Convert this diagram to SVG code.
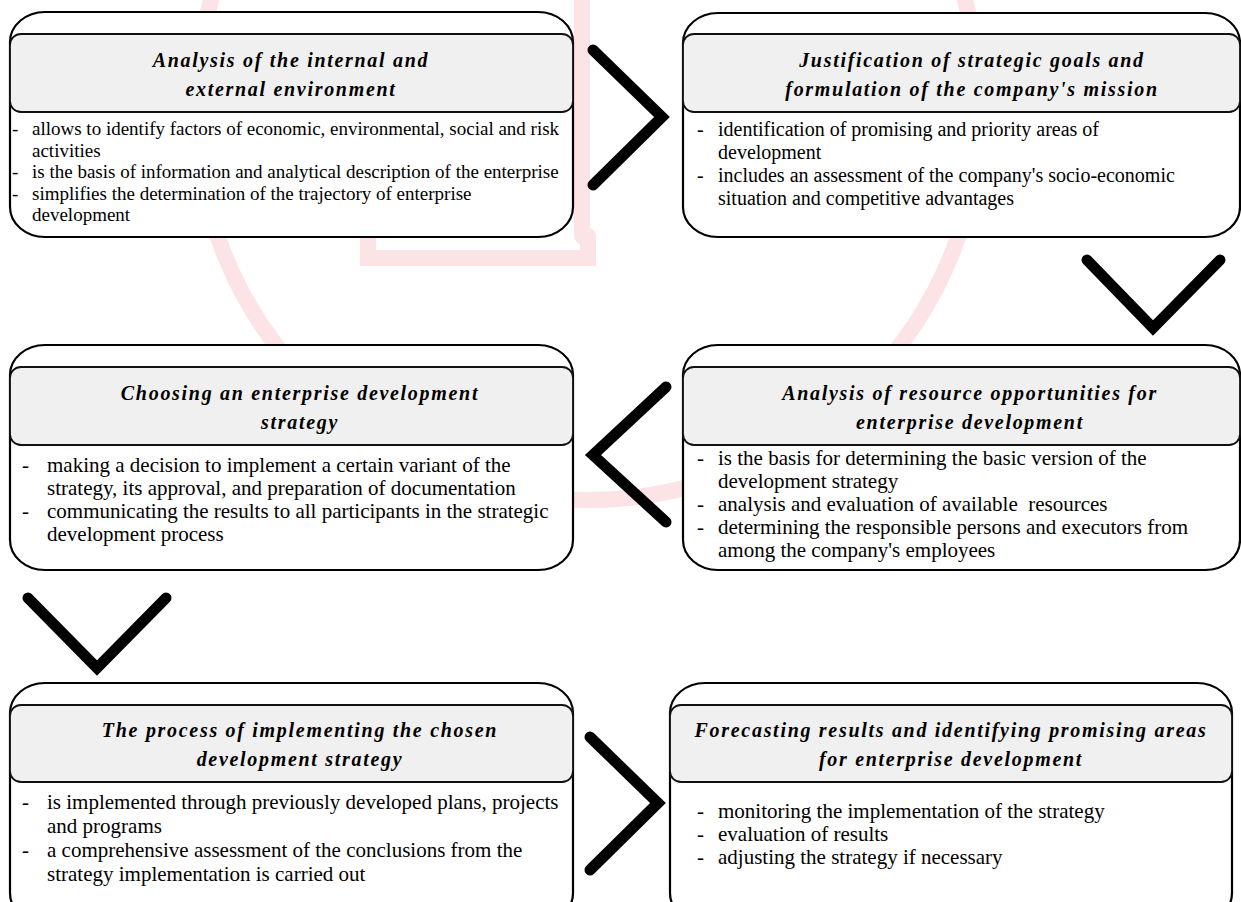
<svg xmlns="http://www.w3.org/2000/svg" width="1241" height="902" viewBox="0 0 1241 902">
<style>
.outer{fill:#ffffff;stroke:#000;stroke-width:2.2}
.head{fill:#f0f0f0;stroke:#111;stroke-width:1.8}
.title{font-family:"Liberation Serif","Times New Roman",serif;font-weight:bold;font-style:italic;font-size:20px;letter-spacing:1.7px;fill:#000;text-anchor:middle}
.body{font-family:"Liberation Serif","Times New Roman",serif;font-size:21px;fill:#000}
.small{font-size:19px}
.mid{font-size:20px}
.chev{fill:none;stroke:#000;stroke-width:11;stroke-linecap:round;stroke-linejoin:miter}
.wm{fill:none;stroke:#fbe3e6;stroke-width:16;stroke-linecap:round}
</style>
<rect width="1241" height="902" fill="#fff"/>
<g id="watermark">
<circle class="wm" cx="588" cy="108" r="392"/>
<path class="wm" d="M368,236 V258 H588 V236" stroke-width="11"/>
<path class="wm" d="M582,0 V236" stroke-width="9"/>
</g>
<g id="connectors">
<polyline class="chev" points="593,50 662,117 593,185"/>
<polyline class="chev" points="1087,260 1153,328 1220,260"/>
<polyline class="chev" points="666,387 593,455 666,522"/>
<polyline class="chev" points="28,598 97,668 166,598"/>
<polyline class="chev" points="590,737 658,803 590,870"/>
</g>
<g id="node1">
<rect class="outer" x="10" y="12" width="563" height="225" rx="35" ry="30"/>
<rect class="head" x="10" y="34" width="563" height="78" rx="11"/>
<text class="title" x="291" y="67">Analysis of the internal and</text>
<text class="title" x="291" y="96">external environment</text>
<g class="body small">
<text x="12" y="135">-</text><text x="32" y="135">allows to identify factors of economic, environmental, social and risk</text>
<text x="32" y="156.5">activities</text>
<text x="12" y="178">-</text><text x="32" y="178">is the basis of information and analytical description of the enterprise</text>
<text x="12" y="199.5">-</text><text x="32" y="199.5">simplifies the determination of the trajectory of enterprise</text>
<text x="32" y="221">development</text>
</g>
</g>
<g id="node2">
<rect class="outer" x="683" y="13" width="557" height="224" rx="35" ry="30"/>
<rect class="head" x="683" y="34" width="557" height="78" rx="11"/>
<text class="title" x="972" y="67">Justification of strategic goals and</text>
<text class="title" x="972" y="96">formulation of the company's mission</text>
<g class="body mid">
<text x="697" y="136">-</text><text x="718" y="136">identification of promising and priority areas of</text>
<text x="718" y="159">development</text>
<text x="697" y="182">-</text><text x="718" y="182">includes an assessment of the company's socio-economic</text>
<text x="718" y="205">situation and competitive advantages</text>
</g>
</g>
<g id="node3">
<rect class="outer" x="10" y="345" width="563" height="225" rx="35" ry="30"/>
<rect class="head" x="10" y="367" width="563" height="78" rx="11"/>
<text class="title" x="300" y="400">Choosing an enterprise development</text>
<text class="title" x="300" y="429">strategy</text>
<g class="body">
<text x="22" y="472">-</text><text x="47" y="472">making a decision to implement a certain variant of the</text>
<text x="47" y="495">strategy, its approval, and preparation of documentation</text>
<text x="22" y="518">-</text><text x="47" y="518">communicating the results to all participants in the strategic</text>
<text x="47" y="541">development process</text>
</g>
</g>
<g id="node4">
<rect class="outer" x="683" y="345" width="557" height="225" rx="35" ry="30"/>
<rect class="head" x="683" y="367" width="557" height="78" rx="11"/>
<text class="title" x="970" y="400">Analysis of resource opportunities for</text>
<text class="title" x="970" y="429">enterprise development</text>
<g class="body">
<text x="697" y="465">-</text><text x="718" y="465">is the basis for determining the basic version of the</text>
<text x="718" y="488">development strategy</text>
<text x="697" y="511">-</text><text x="718" y="511" xml:space="preserve">analysis and evaluation of available  resources</text>
<text x="697" y="534">-</text><text x="718" y="534">determining the responsible persons and executors from</text>
<text x="718" y="557">among the company's employees</text>
</g>
</g>
<g id="node5">
<rect class="outer" x="10" y="683" width="563" height="240" rx="35" ry="30"/>
<rect class="head" x="10" y="705" width="563" height="77" rx="11"/>
<text class="title" x="300" y="737">The process of implementing the chosen</text>
<text class="title" x="300" y="766">development strategy</text>
<g class="body">
<text x="22" y="809">-</text><text x="47" y="809">is implemented through previously developed plans, projects</text>
<text x="47" y="833">and programs</text>
<text x="22" y="857">-</text><text x="47" y="857">a comprehensive assessment of the conclusions from the</text>
<text x="47" y="881">strategy implementation is carried out</text>
</g>
</g>
<g id="node6">
<rect class="outer" x="670" y="683" width="562" height="240" rx="35" ry="30"/>
<rect class="head" x="670" y="705" width="562" height="77" rx="11"/>
<text class="title" x="951" y="737">Forecasting results and identifying promising areas</text>
<text class="title" x="951" y="766">for enterprise development</text>
<g class="body">
<text x="697" y="818">-</text><text x="718" y="818">monitoring the implementation of the strategy</text>
<text x="697" y="841">-</text><text x="718" y="841">evaluation of results</text>
<text x="697" y="864">-</text><text x="718" y="864">adjusting the strategy if necessary</text>
</g>
</g>
</svg>
